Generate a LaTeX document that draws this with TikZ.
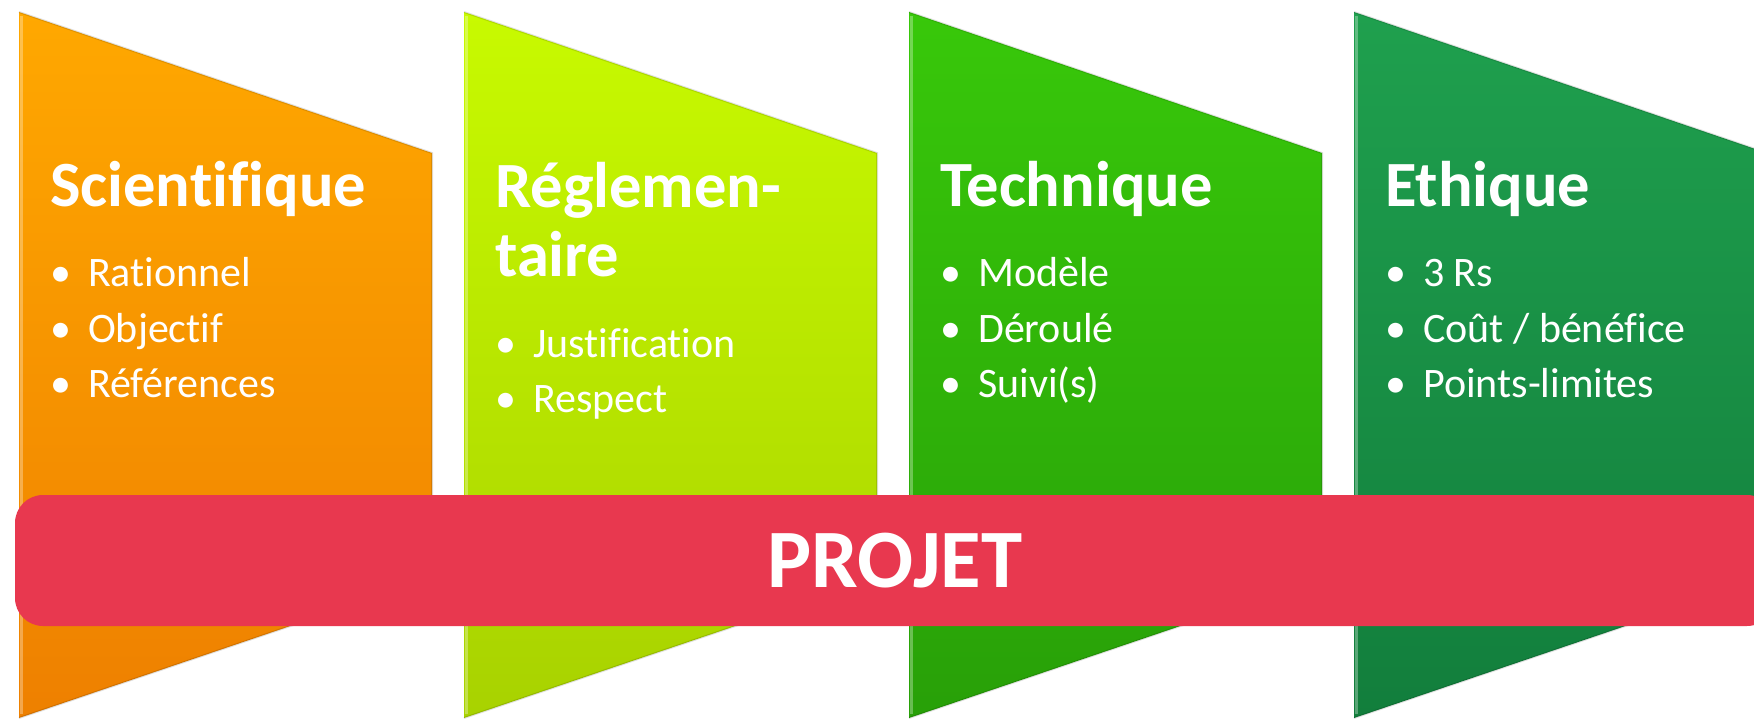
\documentclass[tikz,border=0pt]{standalone}
\usepackage{fontspec}
\setmainfont{Carlito}[Ligatures=NoCommon]
\usepackage{tikz}

\definecolor{orangeTop}{HTML}{FFA800}
\definecolor{orangeBot}{HTML}{EE8000}
\definecolor{limeTop}{HTML}{C8FA00}
\definecolor{limeBot}{HTML}{A8D200}
\definecolor{greenTop}{HTML}{38C80A}
\definecolor{greenBot}{HTML}{28A008}
\definecolor{darkTop}{HTML}{1FA04E}
\definecolor{darkBot}{HTML}{127E3C}
\definecolor{projetRed}{HTML}{E8384F}

\newcommand{\itembul}{\makebox[37.5pt][l]{•}}

\begin{document}
\begin{tikzpicture}[x=1pt,y=-1pt,
  headtext/.style={anchor=base west,inner sep=0pt,text=white,
    font=\fontsize{64.5}{69}\selectfont\bfseries},
  itemtext/.style={anchor=base west,inner sep=0pt,text=white,
    font=\fontsize{42}{55}\selectfont},
  banner/.style={fill=projetRed,rounded corners=28pt,inner sep=0pt,
    minimum width=1760pt,minimum height=131pt,text=white,
    font=\fontsize{83}{90}\selectfont\bfseries}]
\useasboundingbox (0,0) rectangle (1754,719);
\clip (0,0) rectangle (1754,719);
%% the four panels
\foreach \x/\ctop/\cbot in {19/orangeTop/orangeBot, 464/limeTop/limeBot,
    909/greenTop/greenBot, 1354/darkTop/darkBot}{
  \shade[top color=\ctop, bottom color=\cbot] (\x,12) -- ++(413,141) -- ++(0,425) -- (\x,718) -- cycle;
  \draw[white, opacity=0.3, line width=3pt] (\x+2,16) -- (\x+2,714);
  \draw[black, opacity=0.12, line width=2pt] (\x,12) -- ++(413,141) -- ++(0,425) -- (\x,718);
}
%% Scientifique
\node[headtext] (sci) at (50,207) {Scientifique};
\node[itemtext] (sci1) at (50.5,287) {\itembul Rationnel};
\node[itemtext] (sci2) at (50.5,342) {\itembul Objectif};
\node[itemtext] (sci3) at (50.5,397) {\itembul Références};
%% Reglementaire
\node[headtext] (reg) at (495,208) {Réglemen-};
\node[headtext] (reg0) at (495,277) {taire};
\node[itemtext] (reg1) at (495.5,357) {\itembul Justification};
\node[itemtext] (reg2) at (495.5,412) {\itembul Respect};
%% Technique
\node[headtext] (tec) at (940,207) {Technique};
\node[itemtext] (tec1) at (940.5,287) {\itembul Modèle};
\node[itemtext] (tec2) at (940.5,342) {\itembul Déroulé};
\node[itemtext] (tec3) at (940.5,397) {\itembul Suivi(s)};
%% Ethique
\node[headtext] (eth) at (1385,207) {Ethique};
\node[itemtext] (eth1) at (1385.5,287) {\itembul 3 Rs};
\node[itemtext] (eth2) at (1385.5,342) {\itembul Coût / bénéfice};
\node[itemtext] (eth3) at (1385.5,397) {\itembul Points-limites};
%% banner
\node[banner] (projet) at (895,560.5) {PROJET};
%
\end{tikzpicture}
\end{document}
